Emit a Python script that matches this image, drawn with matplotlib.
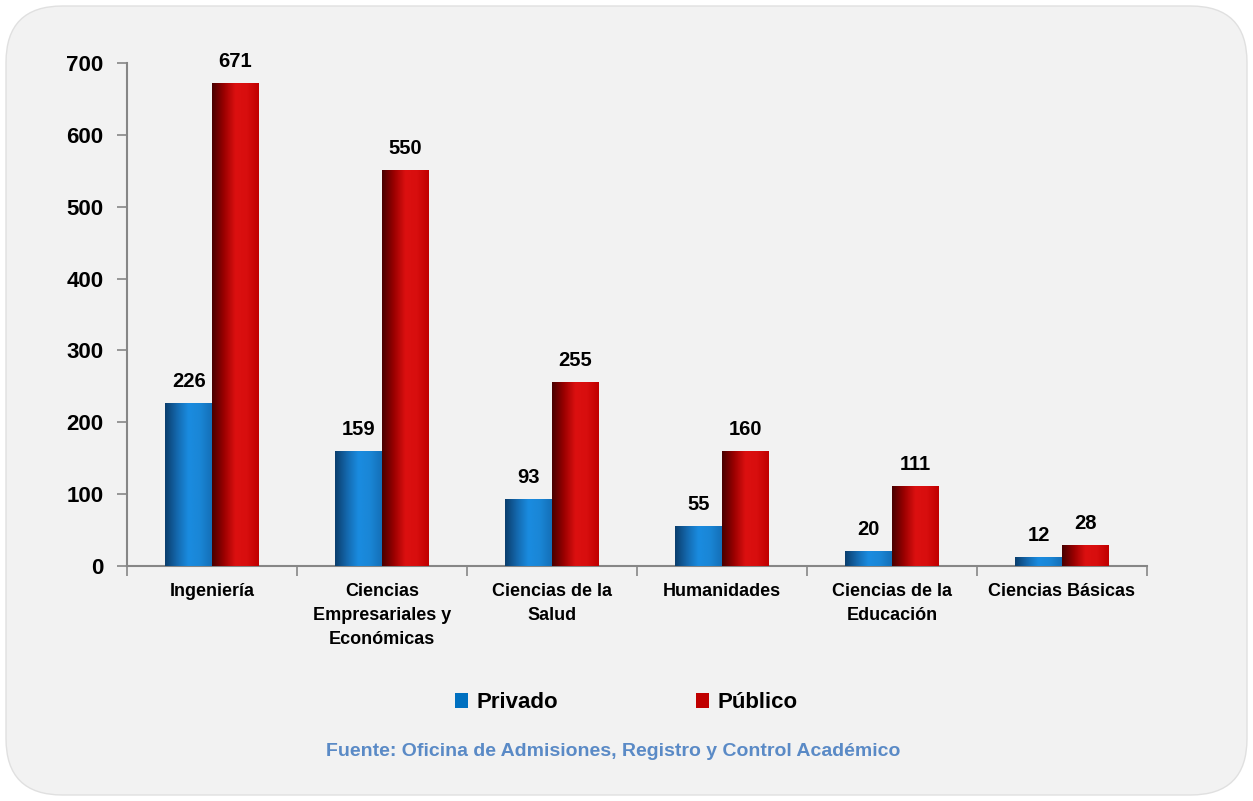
import numpy as np
import matplotlib
matplotlib.use("Agg")
import matplotlib.pyplot as plt
from matplotlib.patches import FancyBboxPatch
from matplotlib.colors import LinearSegmentedColormap

categories = ["Ingeniería", "Ciencias\nEmpresariales y\nEconómicas", "Ciencias de la\nSalud",
              "Humanidades", "Ciencias de la\nEducación", "Ciencias Básicas"]
privado = [226, 159, 93, 55, 20, 12]
publico = [671, 550, 255, 160, 111, 28]
yticks = [0, 100, 200, 300, 400, 500, 600, 700]
source = "Fuente: Oficina de Admisiones, Registro y Control Académico"

plt.rcParams['font.family'] = ['Liberation Sans Narrow', 'Liberation Sans', 'DejaVu Sans']
plt.rcParams['font.weight'] = 'bold'

W, H = 1253, 801
fig = plt.figure(figsize=(W / 100, H / 100), dpi=100, facecolor='white')

box = FancyBboxPatch((6 / W, 6 / H), (W - 12) / W, (H - 12) / H,
                     boxstyle="round,pad=0,rounding_size=0.045",
                     transform=fig.transFigure, facecolor='#f2f2f2',
                     edgecolor='#e0e0e0', linewidth=1, zorder=-5,
                     mutation_aspect=W / H)
fig.patches.append(box)

ax = fig.add_axes([127 / W, 235 / H, 1020 / W, 503 / H])
ax.set_facecolor('none')
ax.set_zorder(2)

x = np.arange(len(categories))
w = 0.274
b1 = ax.bar(x - w / 2, privado, w, color='#0070c0', label='Privado', zorder=2)
b2 = ax.bar(x + w / 2, publico, w, color='#c00000', label='Público', zorder=2)

blue_cm = LinearSegmentedColormap.from_list('b', ['#0b3f6e', '#1468ad', '#1a8ce0', '#1a86d6', '#1470b8'])
red_cm = LinearSegmentedColormap.from_list('r', ['#4a0000', '#9a0000', '#dc1010', '#d80e0e', '#c00000'])
grad = np.linspace(0, 1, 64).reshape(1, -1)
for bars, cm in ((b1, blue_cm), (b2, red_cm)):
    for r in bars:
        x0, hgt, bw = r.get_x(), r.get_height(), r.get_width()
        ax.imshow(grad, cmap=cm, aspect='auto', extent=[x0, x0 + bw, 0, hgt],
                  zorder=3, interpolation='bicubic')

for bars in (b1, b2):
    for r in bars:
        ax.annotate(f"{int(r.get_height())}", (r.get_x() + r.get_width() / 2, r.get_height()),
                    xytext=(0, 9), textcoords='offset points', ha='center', va='bottom',
                    fontsize=14.5, fontweight='bold', color='black')

ax.set_xlim(-0.5, len(categories) - 0.5)
ax.set_ylim(0, 700)
ax.set_yticks(yticks)
ax.tick_params(axis='y', labelsize=16, length=7, width=1.2, color='#868686', pad=10)
ax.set_xticks(x)
ax.set_xticklabels(categories, fontsize=13, fontweight='bold', linespacing=1.55)
ax.tick_params(axis='x', length=0, pad=12)
ax.set_xticks(np.arange(-0.5, len(categories)), minor=True)
ax.tick_params(axis='x', which='minor', length=7, width=1.2, color='#868686')
for lab in ax.get_yticklabels():
    lab.set_fontweight('bold')
for s in ('top', 'right'):
    ax.spines[s].set_visible(False)
for s in ('left', 'bottom'):
    ax.spines[s].set_color('#868686')
    ax.spines[s].set_linewidth(1.5)

leg = fig.legend(handles=[b1, b2], labels=['Privado', 'Público'], loc='center',
                 bbox_to_anchor=(626 / W, 1 - 703 / H), ncol=2, frameon=False,
                 prop={'size': 16, 'weight': 'bold'}, handlelength=0.62, handleheight=0.62,
                 handletextpad=0.35, columnspacing=6.2)

fig.text(613 / W, 1 - 751 / H, source, ha='center', va='center', fontsize=14,
         fontweight='bold', color='#5a8ac6')

fig.savefig('out.png', dpi=100, facecolor='white')
